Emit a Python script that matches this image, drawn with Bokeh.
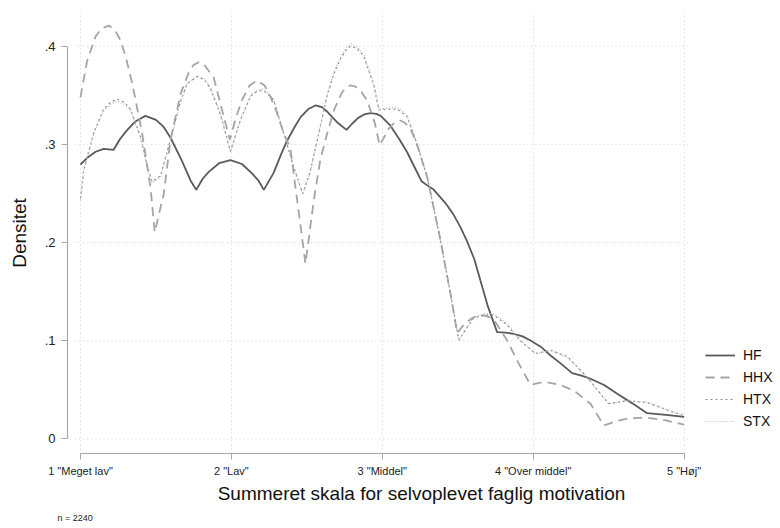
from bokeh.plotting import figure
from bokeh.models import Legend, LegendItem, Title, FixedTicker, Range1d
from bokeh.embed import file_html
from bokeh.resources import INLINE

# ---------------- data ----------------
x_ticks = [1, 2, 3, 4, 5]
x_tick_labels = ['1 "Meget lav"', '2 "Lav"', '3 "Middel"', '4 "Over middel"', '5 "Høj"']
y_ticks = [0, 0.1, 0.2, 0.3, 0.4]
y_tick_labels = ["0", ".1", ".2", ".3", ".4"]

hf_x = [1.0, 1.05, 1.10, 1.154, 1.22, 1.26, 1.30, 1.36, 1.43, 1.50, 1.55, 1.596, 1.67, 1.73, 1.767,
        1.81, 1.85, 1.92, 1.994, 2.07, 2.14, 2.18, 2.215, 2.28, 2.33, 2.37, 2.42, 2.46, 2.51, 2.557,
        2.60, 2.63, 2.70, 2.763, 2.80, 2.84, 2.88, 2.92, 2.96, 2.99, 3.054, 3.11, 3.165, 3.21, 3.26,
        3.30, 3.34, 3.42, 3.474, 3.518, 3.563, 3.61, 3.651, 3.70, 3.761, 3.82, 3.871, 3.93, 3.982,
        4.05, 4.115, 4.19, 4.258, 4.32, 4.38, 4.47, 4.557, 4.66, 4.755, 4.88, 5.0]
hf_y = [0.2795, 0.287, 0.2925, 0.2955, 0.2945, 0.305, 0.313, 0.323, 0.329, 0.325, 0.318, 0.307, 0.284, 0.263, 0.2537,
        0.265, 0.272, 0.281, 0.284, 0.280, 0.270, 0.263, 0.2537, 0.271, 0.290, 0.304, 0.318, 0.328, 0.336, 0.3396,
        0.338, 0.334, 0.3226, 0.3148, 0.321, 0.327, 0.3305, 0.3318, 0.3310, 0.329, 0.319, 0.306, 0.292, 0.278, 0.2625,
        0.258, 0.254, 0.240, 0.228, 0.2157, 0.201, 0.183, 0.161, 0.135, 0.1088, 0.1082, 0.107, 0.1045, 0.1003,
        0.094, 0.085, 0.076, 0.067, 0.0645, 0.0613, 0.055, 0.046, 0.036, 0.0263, 0.0245, 0.0225]

hhx_x = [1.0, 1.044, 1.10, 1.14, 1.188, 1.23, 1.265, 1.30, 1.343, 1.409, 1.464, 1.492, 1.552, 1.596,
         1.663, 1.72, 1.75, 1.784, 1.82, 1.883, 1.95, 1.99, 2.03, 2.07, 2.12, 2.171, 2.22, 2.26, 2.30,
         2.347, 2.39, 2.436, 2.491, 2.546, 2.59, 2.635, 2.679, 2.73, 2.76, 2.789, 2.82, 2.86, 2.90, 2.95,
         2.983, 3.043, 3.08, 3.12, 3.15, 3.187, 3.23, 3.298, 3.386, 3.452, 3.496, 3.55, 3.60, 3.64, 3.673,
         3.71, 3.75, 3.828, 3.905, 3.982, 4.04, 4.093, 4.18, 4.269, 4.38, 4.468, 4.55, 4.623, 4.69, 4.755,
         4.88, 5.0]
hhx_y = [0.348, 0.385, 0.410, 0.418, 0.421, 0.416, 0.406, 0.389, 0.362, 0.311, 0.256, 0.2106, 0.2497, 0.304,
         0.3515, 0.374, 0.381, 0.3837, 0.381, 0.368, 0.3277, 0.305, 0.327, 0.345, 0.360, 0.365, 0.360, 0.348, 0.333,
         0.311, 0.297, 0.243, 0.1784, 0.243, 0.285, 0.311, 0.3345, 0.352, 0.358, 0.360, 0.359, 0.354, 0.3447, 0.322,
         0.299, 0.316, 0.322, 0.3243, 0.322, 0.316, 0.300, 0.2666, 0.2021, 0.1479, 0.108, 0.118, 0.1235, 0.1255, 0.1258,
         0.124, 0.119, 0.1003, 0.0766, 0.0552, 0.0572, 0.0578, 0.055, 0.0494, 0.0358, 0.0137, 0.018, 0.0206, 0.0214, 0.0216,
         0.019, 0.0145]

htx_x = [1.0, 1.022, 1.088, 1.154, 1.20, 1.243, 1.29, 1.331, 1.398, 1.442, 1.475, 1.53, 1.596, 1.663, 1.707,
         1.773, 1.82, 1.861, 1.928, 1.994, 2.06, 2.127, 2.17, 2.204, 2.24, 2.28, 2.347, 2.413, 2.473, 2.52, 2.579,
         2.635, 2.68, 2.723, 2.76, 2.789, 2.83, 2.877, 2.944, 2.977, 3.04, 3.099, 3.165, 3.231, 3.298, 3.386, 3.452,
         3.507, 3.606, 3.68, 3.739, 3.828, 3.916, 4.016, 4.115, 4.225, 4.358, 4.446, 4.501, 4.623, 4.755,
         4.932, 5.0]
htx_y = [0.245, 0.274, 0.312, 0.336, 0.343, 0.346, 0.343, 0.336, 0.308, 0.278, 0.262, 0.268, 0.305, 0.344, 0.362,
         0.369, 0.366, 0.357, 0.330, 0.293, 0.325, 0.349, 0.354, 0.355, 0.352, 0.345, 0.311, 0.277, 0.250, 0.271, 0.311,
         0.350, 0.372, 0.387, 0.396, 0.400, 0.398, 0.390, 0.360, 0.335, 0.336, 0.336, 0.328, 0.300, 0.2666, 0.2021, 0.1479,
         0.1010, 0.123, 0.1265, 0.126, 0.116, 0.100, 0.087, 0.0905, 0.084, 0.063, 0.046, 0.036, 0.039, 0.037,
         0.027, 0.024]

stx_x = [1.0, 1.022, 1.088, 1.154, 1.20, 1.243, 1.29, 1.331, 1.398, 1.442, 1.475, 1.53, 1.596, 1.663, 1.707,
         1.773, 1.82, 1.861, 1.928, 1.994, 2.06, 2.127, 2.17, 2.204, 2.24, 2.28, 2.347, 2.413, 2.473, 2.52, 2.579,
         2.635, 2.68, 2.723, 2.76, 2.789, 2.83, 2.877, 2.944, 2.977, 3.04, 3.099, 3.165, 3.231, 3.298, 3.386, 3.452,
         3.507, 3.606, 3.68, 3.739, 3.828, 3.916, 4.016, 4.115, 4.225, 4.358, 4.446, 4.501, 4.623, 4.755,
         4.932, 5.0]
stx_y = [0.243, 0.273, 0.311, 0.3345, 0.341, 0.344, 0.341, 0.3345, 0.307, 0.2768, 0.2605, 0.2666, 0.304, 0.343, 0.3615,
         0.370, 0.367, 0.358, 0.331, 0.292, 0.3243, 0.350, 0.355, 0.3566, 0.353, 0.3464, 0.311, 0.2768, 0.2487, 0.270, 0.311,
         0.3515, 0.374, 0.3888, 0.398, 0.4025, 0.400, 0.392, 0.3617, 0.336, 0.337, 0.338, 0.329, 0.3006, 0.2666, 0.2021, 0.1479,
         0.1003, 0.124, 0.1278, 0.1275, 0.1173, 0.1003, 0.0868, 0.0901, 0.0833, 0.0629, 0.046, 0.0358, 0.0392, 0.0375,
         0.0273, 0.024]

FONT = "Liberation Sans"
X_LO, X_HI = 0.9139, 5.606        # frame spans the legend area too
GRID_LO, GRID_HI = 0.965, 5.043   # extent of the plot region's horizontal grid

p = figure(width=780, height=528,
           x_range=Range1d(X_LO, X_HI), y_range=Range1d(-0.0148, 0.4343),
           output_backend="svg", toolbar_location=None,
           min_border_left=67, min_border_right=5, min_border_top=12, min_border_bottom=75)
p.outline_line_color = None
p.background_fill_color = "white"
p.border_fill_color = "white"

# grids
p.xgrid.ticker = FixedTicker(ticks=x_ticks)
p.xgrid.grid_line_color = "#d4d4d4"
p.xgrid.grid_line_dash = "1 3"
p.ygrid.visible = False
p.segment(x0=[GRID_LO] * len(y_ticks), y0=y_ticks, x1=[GRID_HI] * len(y_ticks), y1=y_ticks,
          line_color="#d4d4d4", line_dash="1 3", line_width=1, level="underlay")

# axes
p.xaxis.ticker = FixedTicker(ticks=x_ticks)
p.yaxis.ticker = FixedTicker(ticks=y_ticks)
p.xaxis.major_label_overrides = {t: l for t, l in zip(x_ticks, x_tick_labels)}
p.yaxis.major_label_overrides = {t: l for t, l in zip(y_ticks, y_tick_labels)}
p.xaxis.bounds = (1, 5)
p.yaxis.bounds = (0, 0.4)
p.xaxis.axis_label = "Summeret skala for selvoplevet faglig motivation"
p.yaxis.axis_label = "Densitet"
for ax in (p.xaxis, p.yaxis):
    ax.axis_line_color = "#a8a8a8"
    ax.axis_line_width = 1.2
    ax.major_tick_line_color = "#a8a8a8"
    ax.major_tick_out = 6
    ax.major_tick_in = 0
    ax.minor_tick_line_color = None
    ax.major_label_text_font = FONT
    ax.major_label_text_color = "#222222"
    ax.axis_label_text_font = FONT
    ax.axis_label_text_font_style = "normal"
    ax.axis_label_text_color = "#111111"
    ax.axis_label_text_font_size = "19px"
p.xaxis.major_label_text_font_size = "11px"
p.yaxis.major_label_text_font_size = "13px"
p.xaxis.major_label_standoff = 5
p.yaxis.major_label_standoff = 6
p.xaxis.axis_label_standoff = 3
p.yaxis.axis_label_standoff = 12

# lines
r_hf = p.line(hf_x, hf_y, line_color="#5a5a5a", line_width=1.8)
r_hhx = p.line(hhx_x, hhx_y, line_color="#a5a5a5", line_width=1.8, line_dash="9 6")
r_htx = p.line(htx_x, htx_y, line_color="#8e8e8e", line_width=1.2, line_dash="2 3")
r_stx = p.line(stx_x, stx_y, line_color="#b5b5b5", line_width=1.2, line_dash="1 2")

legend = Legend(items=[LegendItem(label="HF", renderers=[r_hf]),
                       LegendItem(label="HHX", renderers=[r_hhx]),
                       LegendItem(label="HTX", renderers=[r_htx]),
                       LegendItem(label="STX", renderers=[r_stx])],
                location=(638, 22))
legend.label_text_font = FONT
legend.label_text_font_size = "14px"
legend.label_text_color = "#111111"
legend.glyph_width = 30
legend.glyph_height = 20
legend.label_height = 20
legend.spacing = 2
legend.padding = 10
legend.margin = 0
legend.label_standoff = 8
legend.border_line_color = None
legend.background_fill_alpha = 0
p.add_layout(legend)

note = Title(text="n = 2240", align="left", offset=-10, standoff=8,
             text_font=FONT, text_font_size="9px", text_font_style="normal",
             text_color="#222222")
p.add_layout(note, "below")

open("out.html", "w").write(file_html(p, INLINE))
